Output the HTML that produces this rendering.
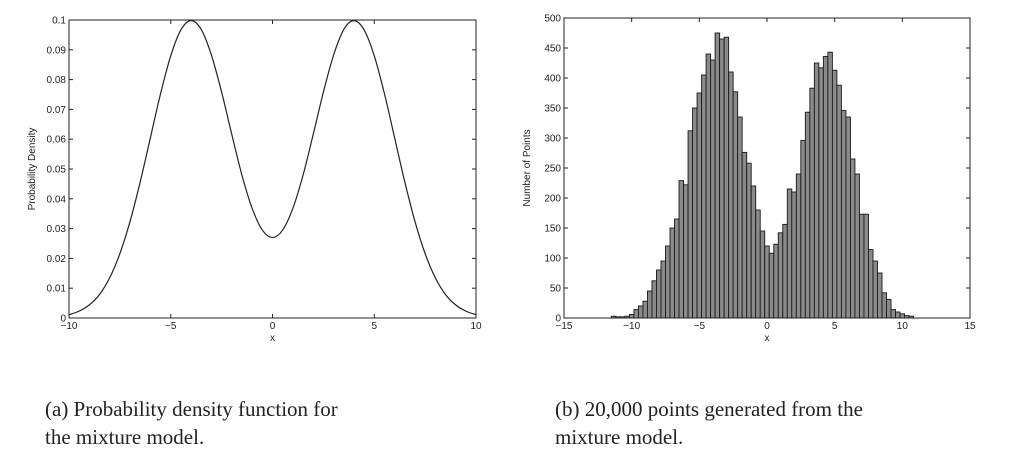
<!DOCTYPE html>
<html><head><meta charset="utf-8"><style>
body{margin:0;background:#fff;width:1017px;height:468px;overflow:hidden}
svg text{font-family:"Liberation Sans",sans-serif;font-size:10px;fill:#222}
.cap{font-family:"Liberation Serif",serif;font-size:21px;fill:#222}
</style></head><body>
<svg id="s" width="1017" height="468">
<g id="left"></g>
<g id="right"></g>
<text class="cap" x="45" y="416">(a) Probability density function for</text>
<text class="cap" x="45" y="444">the mixture model.</text>
<text class="cap" x="555" y="416">(b) 20,000 points generated from the</text>
<text class="cap" x="555" y="444">mixture model.</text>
</svg>
<script>
const NS="http://www.w3.org/2000/svg";
const pdfX=[-10,-9.5,-9,-8.5,-8,-7.5,-7,-6.5,-6,-5.5,-5,-4.5,-4,-3.5,-3,-2.5,-2,-1.5,-1,-0.5,0,0.5,1,1.5,2,2.5,3,3.5,4,4.5,5,5.5,6,6.5,7,7.5,8,8.5,9,9.5,10];
const pdfY=[0.0011,0.0023,0.0044,0.0079,0.0135,0.0216,0.0324,0.0457,0.0605,0.0753,0.088,0.0967,0.0998,0.0968,0.0882,0.0758,0.0616,0.0479,0.0368,0.0295,0.027,0.0295,0.0368,0.0479,0.0616,0.0758,0.0882,0.0968,0.0998,0.0967,0.088,0.0753,0.0605,0.0457,0.0324,0.0216,0.0135,0.0079,0.0044,0.0023,0.0011];
const pdfXTicks=[-10,-5,0,5,10];
const pdfYTicks=[0,0.01,0.02,0.03,0.04,0.05,0.06,0.07,0.08,0.09,0.1];
const binStart=-11.5, binWidth=0.3333;
const counts=[3,2,2,3,6,14,20,28,45,62,80,95,120,150,165,229,222,312,350,375,405,440,430,475,465,468,410,377,335,276,258,220,180,145,120,108,123,142,156,215,210,240,296,343,383,425,417,436,443,413,388,346,335,265,240,173,173,114,95,75,42,31,14,10,7,4,3];
const histXTicks=[-15,-10,-5,0,5,10,15];
const histYTicks=[0,50,100,150,200,250,300,350,400,450,500];

function el(p,t,a){const e=document.createElementNS(NS,t);for(const k in a)e.setAttribute(k,a[k]);p.appendChild(e);return e;}
function axes(g,L,R,T,B,xmin,xmax,ymin,ymax,xt,yt,ylab,fmtY){
  const sx=v=>L+(v-xmin)/(xmax-xmin)*(R-L), sy=v=>B-(v-ymin)/(ymax-ymin)*(B-T);
  xt.forEach(v=>{const x=sx(v);
    el(g,'line',{x1:x,x2:x,y1:B,y2:B-4,stroke:'#222'});el(g,'line',{x1:x,x2:x,y1:T,y2:T+4,stroke:'#222'});
    const t=el(g,'text',{x:x,y:B+11,'text-anchor':'middle'});t.textContent=v<0?'\u2212'+(-v):v;
    
    });
  yt.forEach(v=>{const y=sy(v);
    el(g,'line',{x1:L,x2:L+4,y1:y,y2:y,stroke:'#222'});el(g,'line',{x1:R,x2:R-4,y1:y,y2:y,stroke:'#222'});
    const t=el(g,'text',{x:L-3,y:y+3.5,'text-anchor':'end'});t.textContent=fmtY(v);
    
    });
  const xl=el(g,'text',{x:(L+R)/2,y:B+23,'text-anchor':'middle'});xl.textContent='x';
  
  
  const yl=el(g,'text',{x:0,y:0,'text-anchor':'middle',transform:`translate(${L-34},${(T+B)/2}) rotate(-90)`});yl.textContent=ylab;
  
  
  return [sx,sy];
}
// left
const gl=document.getElementById('left');
const [lx,ly]=axes(gl,69,476,20,318,-10,10,0,0.1,pdfXTicks,pdfYTicks,'Probability Density',v=>String(+v.toFixed(2)));
let d='';const P=pdfX.map((x,i)=>[lx(x),ly(pdfY[i])]);
d='M'+P[0][0]+','+P[0][1];
for(let i=0;i<P.length-1;i++){const p0=P[Math.max(0,i-1)],p1=P[i],p2=P[i+1],p3=P[Math.min(P.length-1,i+2)];
 d+=` C${p1[0]+(p2[0]-p0[0])/6},${p1[1]+(p2[1]-p0[1])/6} ${p2[0]-(p3[0]-p1[0])/6},${p2[1]-(p3[1]-p1[1])/6} ${p2[0]},${p2[1]}`;}
const curve=el(gl,'path',{d:d,fill:'none',stroke:'#222','stroke-width':1.2});


const f1=el(gl,'rect',{x:69,y:20,width:407,height:298,fill:'none',stroke:'#222'});


// right
const gr=document.getElementById('right');
const [hx,hy]=axes(gr,564,970,18,318,-15,15,0,500,histXTicks,histYTicks,'Number of Points',v=>String(v));
counts.forEach((c,i)=>{const x0=hx(binStart+i*binWidth),x1=hx(binStart+(i+1)*binWidth);
 const r=el(gr,'rect',{x:x0,y:hy(c),width:x1-x0,height:hy(0)-hy(c),fill:'#8a8a8a',stroke:'#1a1a1a','stroke-width':0.9});
 
 });
const f2=el(gr,'rect',{x:564,y:18,width:406,height:300,fill:'none',stroke:'#222'});


</script>
</body></html>
